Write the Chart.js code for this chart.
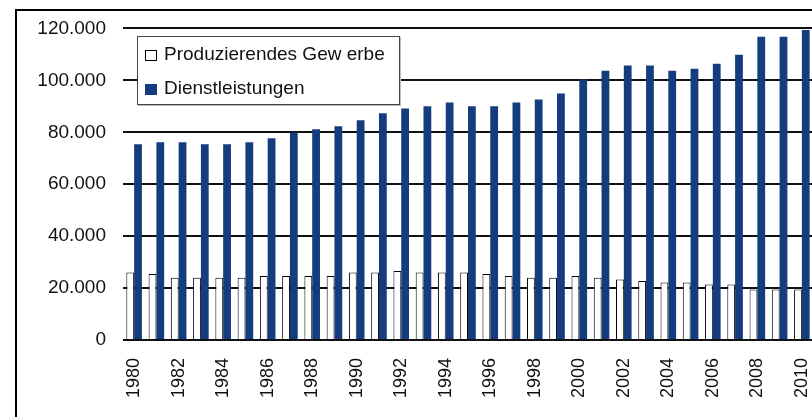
<!DOCTYPE html>
<html lang="de">
<head>
<meta charset="utf-8">
<script src="https://cdn.jsdelivr.net/npm/chart.js@4"></script>
<style>
    html, body { margin: 0; padding: 0; background: #fff; overflow: hidden; width: 812px; height: 417px; }
    #wrap { position: relative; width: 812px; height: 417px; overflow: hidden; }
    #frame {
        position: absolute; left: 15px; top: 9px; width: 900px; height: 500px;
        border-left: 2px solid #000; border-top: 2px solid #000;
    }
    #chart { position: absolute; left: 0; top: 0; width: 830px; height: 417px; }
    #legend {
        position: absolute; left: 137px; top: 36px; width: 261px; height: 67px;
        background: #fff; border: 1px solid #444; box-shadow: 1px 1px 0 #bbb;
        font-family: "Liberation Sans", Arial, sans-serif; font-size: 19px; color: #111;
    }
    .row { position: absolute; left: 7px; height: 22px; line-height: 22px; white-space: nowrap; }
    .box { display: inline-block; margin-right: 7px; vertical-align: -1px; }
</style>
</head>
<body>
<div id="wrap">
    <div id="frame"></div>
    <canvas id="chart" width="830" height="417"></canvas>
    <div id="legend">
        <div class="row" style="top: 6px;"><span class="box" style="width:10px;height:9px;background:#fff;border:1px solid #000;"></span>Produzierendes Gew erbe</div>
        <div class="row" style="top: 40px;"><span class="box" style="width:12px;height:11px;background:#163C80;"></span>Dienstleistungen</div>
    </div>
</div>
<script>
// Erwerbstätige nach Sektoren, 1980 - 2010
const years = ['1980', '1981', '1982', '1983', '1984', '1985', '1986', '1987', '1988', '1989',
    '1990', '1991', '1992', '1993', '1994', '1995', '1996', '1997', '1998', '1999',
    '2000', '2001', '2002', '2003', '2004', '2005', '2006', '2007', '2008', '2009', '2010'];

const produzierendesGewerbe = [26000, 25400, 24000, 24000, 24000, 24000, 24600, 24600, 24600, 24600,
    26000, 26000, 26600, 26000, 26000, 26000, 25400, 24600, 24000, 24000,
    24600, 24000, 23300, 22700, 22100, 22100, 21400, 21400, 19400, 19400, 19400];

const dienstleistungen = [75400, 76200, 76200, 75400, 75400, 76200, 77700, 79900, 81200, 82300,
    84600, 87300, 89200, 90000, 91500, 90000, 90000, 91500, 92600, 94900,
    100300, 103700, 105700, 105700, 103700, 104500, 106400, 109900, 116800, 116800, 119400];

const yTicks = [0, 20000, 40000, 60000, 80000, 100000, 120000];

document.addEventListener('DOMContentLoaded', function() {
    const ctx = document.getElementById('chart').getContext('2d');

    // German thousands separator, e.g. 120.000
    function formatNumber(value) {
        return String(value).replace(/\B(?=(\d{3})+(?!\d))/g, '.');
    }

    new Chart(ctx, {
        type: 'bar',
        data: {
            labels: years,
            datasets: [{
                label: 'Produzierendes Gewerbe',
                data: produzierendesGewerbe,
                backgroundColor: '#ffffff',
                borderColor: '#000000',
                borderWidth: 1,
                categoryPercentage: 0.7,
                barPercentage: 1.0
            }, {
                label: 'Dienstleistungen',
                data: dienstleistungen,
                backgroundColor: '#163C80',
                borderWidth: 0,
                categoryPercentage: 0.7,
                barPercentage: 1.0
            }]
        },
        options: {
            responsive: false,
            animation: false,
            layout: { padding: { top: 27, right: 17, left: 0, bottom: 0 } },
            scales: {
                x: {
                    grid: { display: false },
                    border: { display: false },
                    afterFit: function(scale) {
                        scale.height = 77;
                        // the plot runs off the right edge, no extra room for the last label
                        scale.paddingLeft = 0;
                        scale.paddingRight = 0;
                    },
                    ticks: {
                        autoSkip: false,
                        maxRotation: 90,
                        minRotation: 90,
                        padding: 10,
                        color: '#111',
                        font: { family: '"Liberation Sans", Arial, sans-serif', size: 18 },
                        callback: function(value, index) {
                            return index % 2 === 0 ? years[index] : '';
                        }
                    }
                },
                y: {
                    min: yTicks[0],
                    max: yTicks[yTicks.length - 1],
                    grid: { color: '#111', lineWidth: 2, drawTicks: false },
                    border: { display: false },
                    afterFit: function(scale) { scale.width = 123; },
                    afterBuildTicks: function(scale) {
                        scale.ticks = yTicks.map(v => ({ value: v }));
                    },
                    ticks: {
                        padding: 17,
                        color: '#111',
                        font: { family: '"Liberation Sans", Arial, sans-serif', size: 19 },
                        callback: function(value) {
                            return formatNumber(value);
                        }
                    }
                }
            },
            plugins: {
                legend: { display: false },
                tooltip: { enabled: false }
            }
        }
    });
});
</script>
</body>
</html>
